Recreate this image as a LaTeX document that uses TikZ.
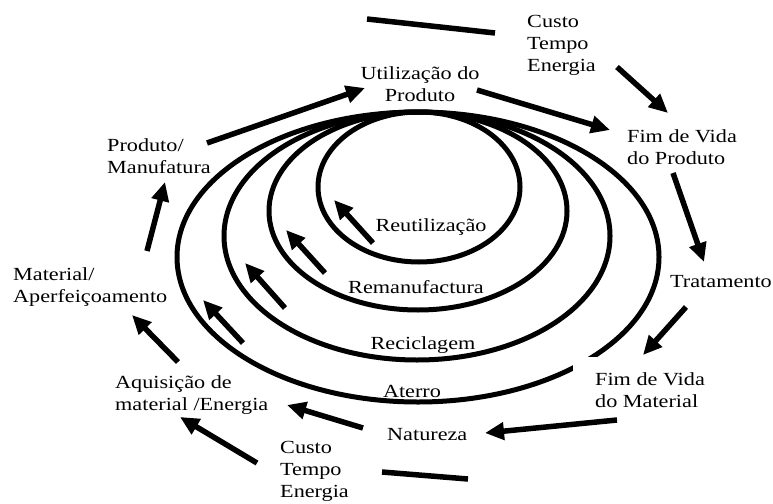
\documentclass[tikz,border=0pt]{standalone}
\usepackage{fontspec}
\setmainfont{Liberation Serif}[FakeStretch=1.2]
\usetikzlibrary{arrows.meta}
\begin{document}
\begin{tikzpicture}[x=1pt,y=-1pt,
  loop/.style={line width=5pt},
  flow/.style={line width=5.5pt,-{Triangle[length=19pt,width=17pt]}},
  bar/.style={line width=5.5pt},
  lbl/.style={inner sep=0pt,font=\fontsize{18.5}{22}\selectfont,align=left},
  lblc/.style={lbl,align=center}]
\useasboundingbox (0,0) rectangle (773,503);

% nested recovery loops, all touching at the top
\draw[loop] (419,187) ellipse [x radius=101, y radius=75];
\draw[loop] (418,211) ellipse [x radius=149, y radius=99];
\draw[loop] (417,236) ellipse [x radius=193, y radius=124];
\draw[loop] (418,257) ellipse [x radius=241, y radius=145];

% stage labels
\node[lbl,anchor=west]  (custotop) at (527,45)  {Custo\\Tempo\\Energia};
\node[lblc]             (util)     at (420,84)  {Utilização do\\Produto};
\node[lbl,anchor=west]  (fimprod)  at (627,147) {Fim de Vida\\do Produto};
\node[lbl,anchor=west]  (trat)     at (670,282) {Tratamento};
\node[lbl,fill=white,inner xsep=22pt,inner ysep=15pt,anchor=north west]
                        (fimmat)   at (573,357) {Fim de Vida\\do Material};
\node[lbl,anchor=west]  (nat)      at (387,435) {Natureza};
\node[lbl,anchor=west]  (custobot) at (280,471) {Custo\\Tempo\\Energia};
\node[lbl,anchor=west]  (aquis)    at (115,395) {Aquisição de\\material /Energia};
\node[lbl,anchor=west]  (mater)    at (13,287)  {Material/\\Aperfeiçoamento};
\node[lbl,anchor=west]  (prodman)  at (107,156) {Produto/\\Manufatura};

% loop labels
\node[lbl] (reut)   at (431,227) {Reutilização};
\node[lbl] (reman)  at (416,287) {Remanufactura};
\node[lbl] (recic)  at (423,345) {Reciclagem};
\node[lbl] (aterro) at (412,391) {Aterro};

% arrow end points
\coordinate (a1s) at (617,67);  \coordinate (a1e) at (668,113);
\coordinate (a2s) at (477,90);  \coordinate (a2e) at (610,130);
\coordinate (a3s) at (673,173); \coordinate (a3e) at (704,262);
\coordinate (a4s) at (686,307); \coordinate (a4e) at (643,355);
\coordinate (a5s) at (617,420); \coordinate (a5e) at (485,433);
\coordinate (a6s) at (382,472); \coordinate (a6e) at (468,479);
\coordinate (a7s) at (363,428); \coordinate (a7e) at (287,405);
\coordinate (a8s) at (257,463); \coordinate (a8e) at (180,417);
\coordinate (a9s) at (178,362); \coordinate (a9e) at (132,315);
\coordinate (a10s) at (147,251); \coordinate (a10e) at (165,182);
\coordinate (a11s) at (207,143); \coordinate (a11e) at (365,88);
\coordinate (a12s) at (367,19);  \coordinate (a12e) at (495,33);

\coordinate (b1s) at (373,243); \coordinate (b1e) at (334,200);
\coordinate (b2s) at (325,273); \coordinate (b2e) at (286,230);
\coordinate (b3s) at (285,308); \coordinate (b3e) at (245,263);
\coordinate (b4s) at (243,343); \coordinate (b4e) at (203,300);

% outer cycle
\draw[flow] (a1s) -- (a1e);
\draw[flow] (a2s) -- (a2e);
\draw[flow] (a3s) -- (a3e);
\draw[flow] (a4s) -- (a4e);
\draw[flow] (a5s) -- (a5e);
\draw[bar]  (a6s) -- (a6e);
\draw[flow] (a7s) -- (a7e);
\draw[flow] (a8s) -- (a8e);
\draw[flow] (a9s) -- (a9e);
\draw[flow] (a10s) -- (a10e);
\draw[flow] (a11s) -- (a11e);
\draw[bar]  (a12s) -- (a12e);

% return arrows inside the loops
\draw[flow] (b1s) -- (b1e);
\draw[flow] (b2s) -- (b2e);
\draw[flow] (b3s) -- (b3e);
\draw[flow] (b4s) -- (b4e);
\end{tikzpicture}
\end{document}
